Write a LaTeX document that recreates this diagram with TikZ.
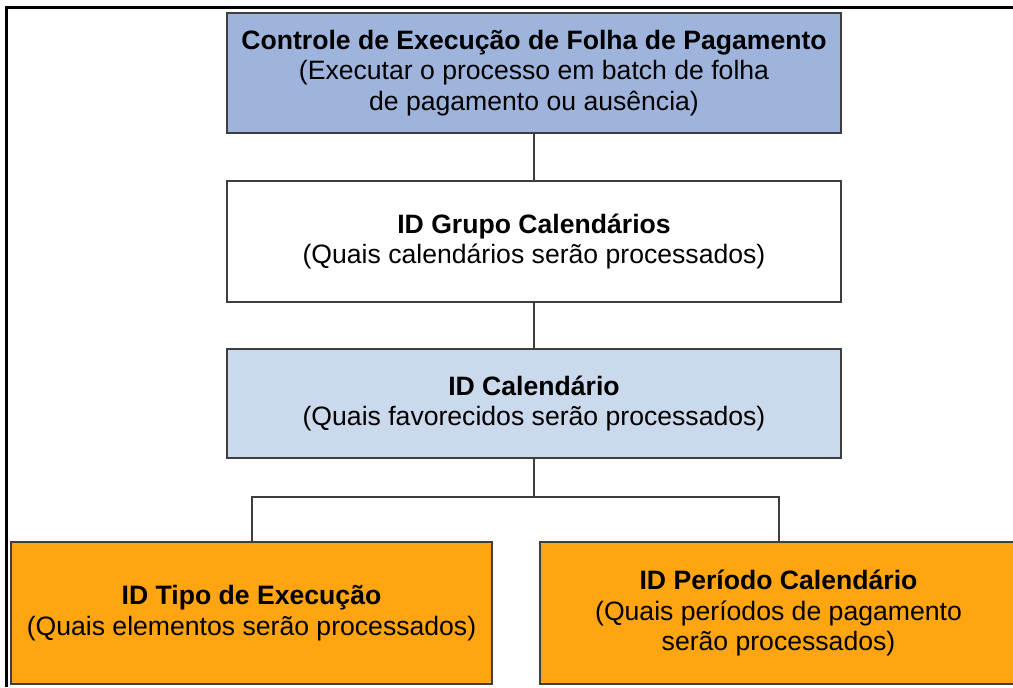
\documentclass[tikz,border=0pt]{standalone}
\usepackage{fontspec}
\setmainfont{Liberation Sans}
\definecolor{runblue}{RGB}{159,180,220}
\definecolor{calblue}{RGB}{203,217,236}
\definecolor{typeorange}{RGB}{255,165,17}
\definecolor{edgegray}{RGB}{62,62,62}
\usetikzlibrary{positioning, calc}

\begin{document}
\begin{tikzpicture}[
        x=0.5pt, y=-0.5pt,
        level/.style={rectangle, draw=edgegray, line width=1pt, inner sep=0pt, outer sep=0pt, align=center, font=\fontsize{13.3}{15.4}\selectfont},
        link/.style={draw=edgegray, line width=1pt}
    ]
        \useasboundingbox (0,0) rectangle (1013,687);

        % Outer frame
        \draw[line width=1.5pt] (6,687) -- (6,7) -- (1013,7);

        % Levels
        \node[level, fill=runblue, minimum width=307pt, minimum height=60pt] (RUN) at (534,73)
            {\textbf{Controle de Execução de Folha de Pagamento}\\(Executar o processo em batch de folha\\de pagamento ou ausência)};
        \node[level, fill=white, minimum width=307pt, minimum height=60.5pt] (GROUP) at (534,241.5)
            {\textbf{ID Grupo Calendários}\\(Quais calendários serão processados)};
        \node[level, fill=calblue, minimum width=307pt, minimum height=54.5pt] (CAL) at (534,403.5)
            {\textbf{ID Calendário}\\(Quais favorecidos serão processados)};

        \node[level, fill=typeorange, minimum width=240.5pt, minimum height=71pt] (TYPE) at (251.5,613)
            {\textbf{ID Tipo de Execução}\\(Quais elementos serão processados)};
        \node[level, fill=typeorange, minimum width=238.5pt, minimum height=71pt] (PERIOD) at (778.5,613)
            {\textbf{ID Período Calendário}\\(Quais períodos de pagamento\\serão processados)};

        % Connections
        \coordinate (SPLIT) at (534,497);
        \draw[link] (RUN) -- (GROUP);
        \draw[link] (GROUP) -- (CAL);
        \draw[link] (CAL) -- (SPLIT);
        \draw[link] (TYPE.north) |- (SPLIT) -| (PERIOD.north);
    \end{tikzpicture}
\end{document}
